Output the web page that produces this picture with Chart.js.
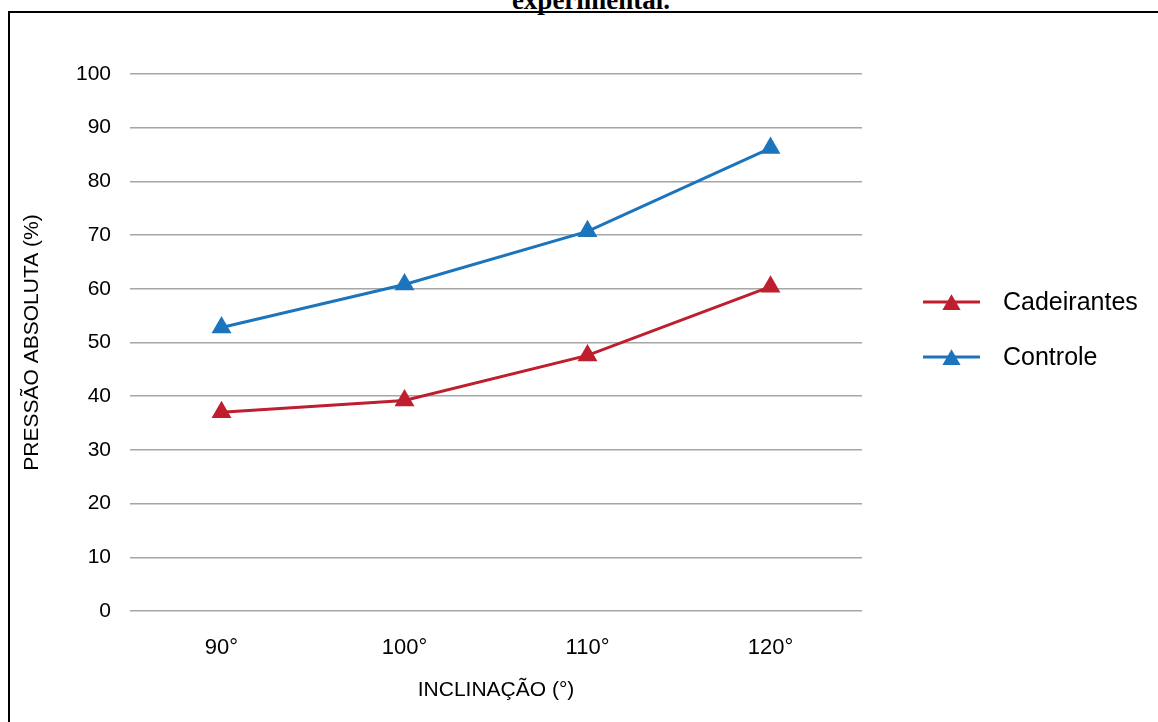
<!DOCTYPE html>
<html lang="pt">
<head>
<meta charset="utf-8">
<title>Pressão absoluta x inclinação</title>
<script src="https://cdn.jsdelivr.net/npm/chart.js@4.4.1/dist/chart.umd.min.js"></script>
<style>
   html, body { margin: 0; padding: 0; background: #fff; }
   body { width: 1158px; height: 722px; position: relative; overflow: hidden; }
   .titulo { position: absolute; left: 0; top: -13px; width: 1182px; text-align: center; font: bold 27px 'Liberation Serif', 'Times New Roman', serif; line-height: 26px; color: #000; }
   .moldura { position: absolute; left: 8px; top: 11px; width: 1200px; height: 800px; border: 2px solid #000; }
   #grafico { position: absolute; left: 0; top: 0; }
</style>
</head>
<body>
<div class="titulo">experimental.</div>
<div class="moldura"></div>
<canvas id="grafico" width="1158" height="722"></canvas>
<script>
// dados
const categorias = ['90°', '100°', '110°', '120°'];
const cadeirantes = [37.0, 39.2, 47.6, 60.4];
const controle = [52.8, 60.8, 70.7, 86.2];
const nomesSeries = ['Cadeirantes', 'Controle'];
const ticksY = [0, 10, 20, 30, 40, 50, 60, 70, 80, 90, 100];

const corCadeirantes = '#BE1E2D';
const corControle = '#1C75BC';
const fonte = "'Liberation Sans', Arial, sans-serif";

// legenda ao lado: linha + triângulo + nome
const legendaLateral = {
   id: 'legendaLateral',
   afterDraw(chart, args, opts) {
      const ctx = chart.ctx;
      chart.data.datasets.forEach((ds, i) => {
         const y = opts.top + i * opts.espaco;
         ctx.save();
         ctx.strokeStyle = ds.borderColor;
         ctx.lineWidth = ds.borderWidth;
         ctx.beginPath();
         ctx.moveTo(opts.x, y);
         ctx.lineTo(opts.x + opts.comprimento, y);
         ctx.stroke();
         ctx.fillStyle = ds.pointBackgroundColor;
         Chart.helpers.drawPoint(ctx, {pointStyle: 'triangle', radius: opts.raio, borderWidth: 0, rotation: 0}, opts.x + opts.comprimento / 2, y + opts.raio / 4);
         ctx.fillStyle = '#000';
         ctx.font = opts.tamanhoFonte + 'px ' + fonte;
         ctx.textAlign = 'left';
         ctx.textBaseline = 'middle';
         ctx.fillText(ds.label, opts.textoX, y + 1);
         ctx.restore();
      });
   }
};

const ctx = document.getElementById('grafico').getContext('2d');
const grafico = new Chart(ctx, {
   type: 'line',
   data: {
      labels: categorias,
      datasets: [{
         label: nomesSeries[0],
         data: cadeirantes,
         borderColor: corCadeirantes,
         backgroundColor: corCadeirantes,
         pointBackgroundColor: corCadeirantes,
         borderWidth: 3,
         pointStyle: 'triangle',
         pointRadius: 11.5,
         pointHoverRadius: 11.5,
         pointBorderWidth: 0,
         tension: 0,
      }, {
         label: nomesSeries[1],
         data: controle,
         borderColor: corControle,
         backgroundColor: corControle,
         pointBackgroundColor: corControle,
         borderWidth: 3,
         pointStyle: 'triangle',
         pointRadius: 11.5,
         pointHoverRadius: 11.5,
         pointBorderWidth: 0,
         tension: 0,
      }]
   },
   options: {
      responsive: false,
      animation: false,
      layout: {
         padding: {top: 74, right: 296, bottom: 0, left: 0}
      },
      scales: {
         x: {
            offset: true,
            grid: {display: false},
            border: {display: false},
            ticks: {
               color: '#000',
               padding: 16,
               font: {family: fonte, size: 22},
            },
            title: {
               display: true,
               text: 'INCLINAÇÃO (°)',
               color: '#000',
               padding: {top: 0, bottom: 19},
               font: {family: fonte, size: 21},
            },
            afterFit: (scale) => { scale.height = 111; },
         },
         y: {
            min: ticksY[0],
            max: ticksY[ticksY.length - 1],
            afterBuildTicks: (scale) => { scale.ticks = ticksY.map(v => ({value: v})); },
            grid: {color: '#a6a6a6', lineWidth: 1.5, drawTicks: false},
            border: {display: false},
            ticks: {
               color: '#000',
               padding: 19,
               font: {family: fonte, size: 21},
            },
            title: {
               display: true,
               text: 'PRESSÃO ABSOLUTA (%)',
               color: '#000',
               padding: {top: 20, bottom: 0},
               font: {family: fonte, size: 21},
            },
            afterFit: (scale) => { scale.width = 130; },
         }
      },
      plugins: {
         legend: {display: false},
         tooltip: {enabled: false},
         legendaLateral: {
            x: 923,
            comprimento: 57,
            textoX: 1003,
            top: 302,
            espaco: 55,
            raio: 10.5,
            tamanhoFonte: 25,
         }
      }
   },
   plugins: [legendaLateral]
});
</script>
</body>
</html>
